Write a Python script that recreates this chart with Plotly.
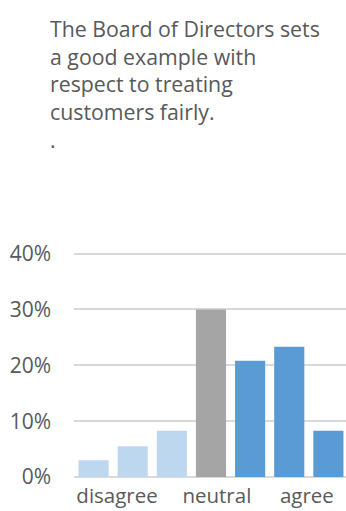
import plotly.graph_objects as go

categories = ["1", "2", "3", "4", "5", "6", "7"]
values = [0.030, 0.055, 0.083, 0.300, 0.208, 0.233, 0.083]
colors = ["#BDD7EE", "#BDD7EE", "#BDD7EE", "#A5A5A5", "#5B9BD5", "#5B9BD5", "#5B9BD5"]
tick_positions = [0.6, 3.15, 5.45]
tick_labels = ["disagree", "neutral", "agree"]
title_lines = ["The Board of Directors sets", "a good example with",
               "respect to treating", "customers fairly.", "."]
y_ticks = [0, 0.1, 0.2, 0.3, 0.4]

FONT = "Open Sans"
GREY = "#595959"

W, H = 346, 511
PLOT_L, PLOT_R, PLOT_T, PLOT_B = 74, 346, 248, 477
Y_MAX = 0.41

fig = go.Figure(go.Bar(
    x=list(range(len(categories))),
    y=values,
    marker=dict(color=colors, line=dict(width=0)),
    width=0.77,
))

pw = PLOT_R - PLOT_L
ph = PLOT_B - PLOT_T
fig.add_annotation(
    text="<br>".join(title_lines), xref="paper", yref="paper",
    x=(48 - PLOT_L) / pw, xanchor="left", align="left",
    y=1 + (PLOT_T - 84) / ph, yanchor="middle", showarrow=False,
    font=dict(family=FONT, size=21.3, color=GREY))

fig.update_layout(
    width=W, height=H,
    margin=dict(l=PLOT_L, r=W - PLOT_R, t=PLOT_T, b=H - PLOT_B),
    paper_bgcolor="white", plot_bgcolor="white",
    showlegend=False,
    xaxis=dict(range=[-0.5, 6.45], tickvals=tick_positions, ticktext=tick_labels,
               showgrid=False, zeroline=False, showline=False, ticks="",
               ticklabelstandoff=4, automargin=False,
               tickfont=dict(family=FONT, size=20.5, color=GREY)),
    yaxis=dict(range=[0, Y_MAX], tickvals=y_ticks, tickformat=".0%",
               showgrid=True, gridcolor="#D9D9D9", gridwidth=2,
               zeroline=True, zerolinecolor="#D9D9D9", zerolinewidth=2,
               showline=False, ticks="", ticklabelstandoff=22, automargin=False,
               tickfont=dict(family=FONT, size=21, color=GREY)),
)

fig.write_html(
    "out.html",
    config={"displayModeBar": False},
    post_script="document.body.style.margin='0';document.body.style.overflow='hidden';",
)
